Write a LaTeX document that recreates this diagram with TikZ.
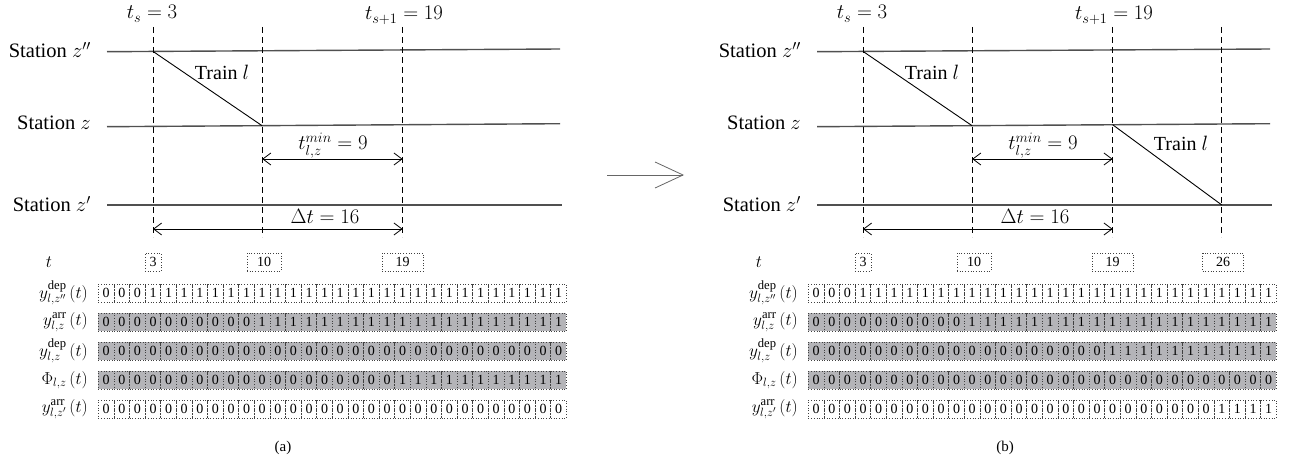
\documentclass[tikz,border=0pt]{standalone}
\usepackage{fontspec}
\setmainfont{Liberation Serif}
\usetikzlibrary{arrows.meta}

\definecolor{rowgrey}{RGB}{180,180,184}
\definecolor{trackgrey}{RGB}{80,80,80}

\tikzset{
  track/.style={draw=trackgrey, line width=1.4pt},
  guide/.style={draw=black, dash pattern=on 6pt off 4pt, line width=0.8pt},
  trainline/.style={draw=black, line width=0.9pt},
  dim/.style={draw=black, line width=0.8pt,
    {Straight Barb[length=8pt,width=12pt]}-{Straight Barb[length=8pt,width=12pt]}},
  stlabel/.style={anchor=east, inner sep=0, font=\fontsize{20.5}{24}\selectfont},
  mlabel/.style={inner sep=0, font=\fontsize{20}{24}\selectfont},
  rowlabel/.style={anchor=east, inner sep=0, font=\fontsize{18}{21}\selectfont},
  cell/.style={draw=black!75, dotted, line width=0.7pt, minimum width=15.6pt,
    minimum height=18pt, inner sep=0, font=\fontsize{14}{15}\selectfont},
  greycell/.style={cell, fill=rowgrey},
  tickbox/.style={cell, minimum width=41pt},
  caption/.style={inner sep=0, font=\fontsize{15}{18}\selectfont}
}

% #1 name prefix, #2 horizontal offset,
% #3..#7 first t at which each table row switches to 1 (100 = never)
\newcommand\drawpanel[7]{%
\begin{scope}[xshift=#2pt]
  % station tracks
  \coordinate (#1-zpp-w) at (107,51.7);  \coordinate (#1-zpp-e) at (560,49);
  \coordinate (#1-z-w)   at (107,126.7); \coordinate (#1-z-e)   at (560,123.7);
  \coordinate (#1-zp-w)  at (107,205);   \coordinate (#1-zp-e)  at (562,205);
  \draw[track] (#1-zpp-w) -- (#1-zpp-e);
  \draw[track] (#1-z-w) -- (#1-z-e);
  \draw[track] (#1-zp-w) -- (#1-zp-e);
  \node[stlabel] (#1-lzpp) at (91,50)  {Station $z''$};
  \node[stlabel] (#1-lz)   at (91,123) {Station $z$};
  \node[stlabel] (#1-lzp)  at (91,204) {Station $z'$};
  % time guides
  \foreach \g/\gx in {3/153,10/262.2,19/402.6}{
    \coordinate (#1-g\g-t) at (\gx,27);
    \coordinate (#1-g\g-b) at (\gx,237);
    \draw[guide] (#1-g\g-t) -- (#1-g\g-b);
  }
  \node[mlabel, anchor=base] (#1-ts)  at (152,19) {$t_s = 3$};
  \node[mlabel, anchor=base] (#1-ts1) at (404,20) {$t_{s+1} = 19$};
  % first run of train l
  \coordinate (#1-dep) at (153,51.4);
  \coordinate (#1-arr) at (262.2,125.8);
  \draw[trainline] (#1-dep) -- (#1-arr);
  \node[mlabel] (#1-train) at (222,72) {Train $l$};
  % minimum dwell and interval
  \coordinate (#1-m1) at (262.2,159); \coordinate (#1-m2) at (402.6,159);
  \draw[dim] (#1-m1) -- (#1-m2);
  \node[mlabel, anchor=base] (#1-tmin) at (333,150) {$t^{min}_{l,z} = 9$};
  \coordinate (#1-d1) at (153,229); \coordinate (#1-d2) at (402.6,229);
  \draw[dim] (#1-d1) -- (#1-d2);
  \node[mlabel, anchor=base] (#1-dt) at (325,223) {$\Delta t = 16$};
  % time axis
  \node[rowlabel, anchor=center] (#1-t) at (49,262) {$t$};
  \node[tickbox, minimum width=16pt] (#1-k3) at (153,262) {3};
  \node[tickbox, minimum width=34pt] (#1-k10) at (264,262) {10};
  \node[tickbox] (#1-k19) at (402.6,262) {19};
  % variable rows
  \node[rowlabel] (#1-r1) at (88,293) {$y^{\mathrm{dep}}_{l,z''}\,(t)$};
  \node[rowlabel] (#1-r2) at (88,322) {$y^{\mathrm{arr}}_{l,z}\,(t)$};
  \node[rowlabel] (#1-r3) at (88,351) {$y^{\mathrm{dep}}_{l,z}\,(t)$};
  \node[rowlabel] (#1-r4) at (88,380) {$\Phi_{l,z}\,(t)$};
  \node[rowlabel] (#1-r5) at (88,409) {$y^{\mathrm{arr}}_{l,z'}\,(t)$};
  \foreach \r/\yy/\on/\st in {1/293/#3/cell, 2/322/#4/greycell,
      3/351/#5/greycell, 4/380/#6/greycell, 5/409/#7/cell}{
    \foreach \i in {0,...,29}{
      \pgfmathtruncatemacro\v{\i<\on ? 0 : 1}
      \node[\st] (#1-c\r-\i) at ({106.2+15.6*\i},\yy) {\v};
    }
  }
\end{scope}}

\begin{document}
\begin{tikzpicture}[x=1pt,y=-1pt]
  \useasboundingbox (0,0) rectangle (1292,465);

  \drawpanel{L}{0}{3}{10}{100}{19}{100}
  \drawpanel{R}{710}{3}{10}{19}{100}{26}

  % second run of train l in panel (b)
  \begin{scope}[xshift=710pt]
    \coordinate (R-g26-t) at (511.8,27);
    \coordinate (R-g26-b) at (511.8,237);
    \draw[guide] (R-g26-t) -- (R-g26-b);
    \coordinate (R-dep2) at (402.6,124.7);
    \coordinate (R-arr2) at (511.8,205);
    \draw[trainline] (R-dep2) -- (R-arr2);
    \node[mlabel] (R-train2) at (471,143) {Train $l$};
    \node[tickbox] (R-k26) at (513,262) {26};
  \end{scope}

  % transition arrow between the panels
  \coordinate (mid-a) at (607,175);
  \coordinate (mid-b) at (684,175);
  \draw[draw=black!60, line width=0.8pt,
    -{Straight Barb[length=28pt,width=26pt]}] (mid-a) -- (mid-b);

  \node[caption] (cap-a) at (283,448) {(a)};
  \node[caption] (cap-b) at (1005,448) {(b)};
\end{tikzpicture}
\end{document}
